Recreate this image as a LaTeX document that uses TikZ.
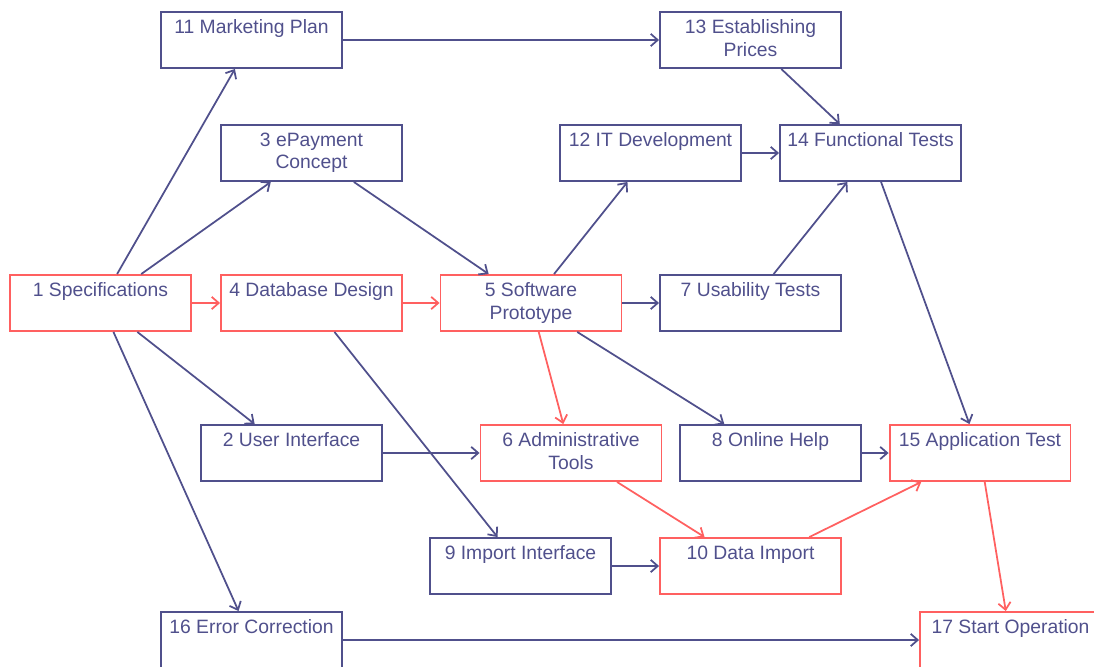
\documentclass[tikz,border=0pt]{standalone}
\usepackage{fontspec}
\setmainfont{Liberation Sans}
\usetikzlibrary{arrows.meta}
\definecolor{slate}{RGB}{80,80,140}
\definecolor{crit}{RGB}{255,96,96}
\tikzstyle{task} = [rectangle, minimum width=3.62cm, minimum height=1.12cm, draw=slate, line width=1.1pt]
\tikzstyle{crittask} = [task, draw=crit]
\tikzstyle{tasktext} = [anchor=north, yshift=-1.3pt, align=center, text=slate, font=\fontsize{11}{13}\selectfont]
\tikzstyle{arrow} = [draw=slate, line width=1pt, -{Straight Barb[length=4pt,width=7pt]}]
\tikzstyle{critarrow} = [arrow, draw=crit]

\begin{document}
\begin{tikzpicture}[x=0.02cm, y=-0.02cm]
\path [use as bounding box, clip] (0,0) rectangle (1094,666);
% Define the blocks
\node (n11) [task, label={[tasktext]north:11 Marketing Plan}] at (251.5,40) {};
\node (n13) [task, label={[tasktext]north:{13 Establishing\\Prices}}] at (750.5,40) {};
\node (n3) [task, label={[tasktext]north:{3 ePayment\\Concept}}] at (311.5,153) {};
\node (n12) [task, label={[tasktext]north:12 IT Development}] at (650.5,153) {};
\node (n14) [task, label={[tasktext]north:14 Functional Tests}] at (870.5,153) {};
\node (n1) [crittask, label={[tasktext]north:1 Specifications}] at (100.5,303) {};
\node (n4) [crittask, label={[tasktext]north:4 Database Design}] at (311.5,303) {};
\node (n5) [crittask, label={[tasktext]north:{5 Software\\Prototype}}] at (531,303) {};
\node (n7) [task, label={[tasktext]north:7 Usability Tests}] at (750.5,303) {};
\node (n2) [task, label={[tasktext]north:2 User Interface}] at (291.5,453) {};
\node (n6) [crittask, label={[tasktext]north:{6 Administrative\\Tools}}] at (571,453) {};
\node (n8) [task, label={[tasktext]north:8 Online Help}] at (770.5,453) {};
\node (n15) [crittask, label={[tasktext]north:15 Application Test}] at (980,453) {};
\node (n9) [task, label={[tasktext]north:9 Import Interface}] at (520.5,566) {};
\node (n10) [crittask, label={[tasktext]north:10 Data Import}] at (750.5,566) {};
\node (n16) [task, label={[tasktext]north:16 Error Correction}] at (251.5,640) {};
\node (n17) [crittask, label={[tasktext]north:17 Start Operation}] at (1010.5,640) {};

% Draw the arrows
\draw [arrow] (n1) -- (n11);
\draw [arrow] (n1) -- (n3);
\draw [critarrow] (n1) -- (n4);
\draw [arrow] (n1) -- (n2);
\draw [arrow] (n1) -- (n16);
\draw [arrow] (n11) -- (n13);
\draw [arrow] (n3) -- (n5);
\draw [critarrow] (n4) -- (n5);
\draw [arrow] (n4) -- (n9);
\draw [arrow] (n5) -- (n12);
\draw [arrow] (n5) -- (n7);
\draw [critarrow] (n5) -- (n6);
\draw [arrow] (n5) -- (n8);
\draw [arrow] (n13) -- (n14);
\draw [arrow] (n12) -- (n14);
\draw [arrow] (n7) -- (n14);
\draw [arrow] (n14) -- (n15);
\draw [arrow] (n2) -- (n6);
\draw [critarrow] (n6) -- (n10);
\draw [arrow] (n8) -- (n15);
\draw [arrow] (n9) -- (n10);
\draw [critarrow] (n10) -- (n15);
\draw [critarrow] (n15) -- (n17);
\draw [arrow] (n16) -- (n17);

\end{tikzpicture}
\end{document}
